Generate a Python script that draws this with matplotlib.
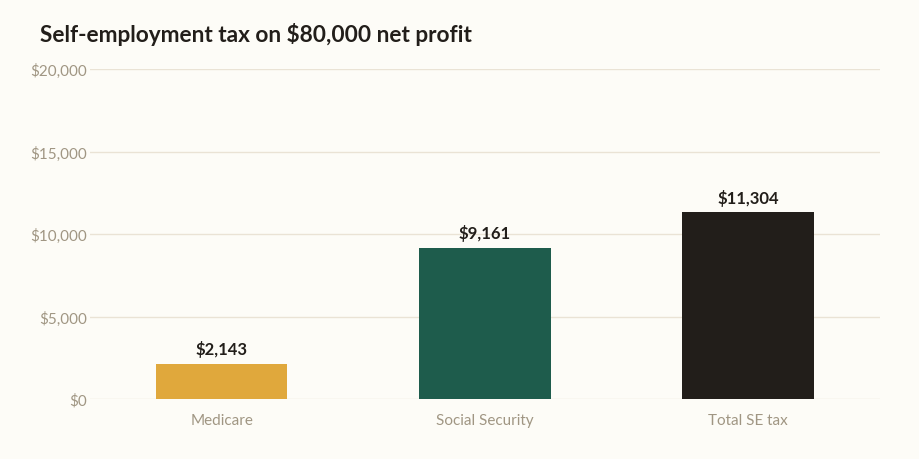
import matplotlib
matplotlib.use('Agg')
import matplotlib.pyplot as plt
from matplotlib.ticker import FuncFormatter

# data
categories = ['Medicare', 'Social Security', 'Total SE tax']
values = [2143, 9161, 11304]
colors = ['#E0A83C', '#1E5C4C', '#221E1A']
yticks = [0, 5000, 10000, 15000, 20000]

bg = '#FDFCF7'
plt.rcParams['font.family'] = ['Lato', 'DejaVu Sans']

fig = plt.figure(figsize=(9.2, 4.6), dpi=100, facecolor=bg)
ax = fig.add_axes([90/920, 60/460, 790/920, 330/460], facecolor=bg)

x = range(len(categories))
ax.bar(x, values, width=0.5, color=colors, zorder=3)

for xi, v in zip(x, values):
    ax.annotate('${:,}'.format(v), (xi, v), xytext=(0, 5), textcoords='offset points',
                ha='center', va='bottom', fontsize=12, fontweight='bold', color='#221E1A')

ax.set_xlim(-0.5, 2.5)
ax.set_ylim(0, 20000)
ax.set_yticks(yticks)
ax.yaxis.set_major_formatter(FuncFormatter(lambda v, p: '${:,.0f}'.format(v)))
ax.set_xticks(list(x))
ax.set_xticklabels(categories)
ax.grid(axis='y', color='#EAE3D5', linewidth=1, zorder=0)
for s in ax.spines.values():
    s.set_visible(False)
ax.tick_params(axis='both', length=0, labelsize=11, labelcolor='#A09683')
ax.tick_params(axis='y', pad=2)
ax.tick_params(axis='x', pad=10)

fig.text(40/920, 1 - 34/460, 'Self-employment tax on $80,000 net profit',
         fontsize=16.3, fontweight='bold', color='#221E1A', va='center', ha='left')

fig.savefig('out.png', dpi=100, facecolor=bg)
